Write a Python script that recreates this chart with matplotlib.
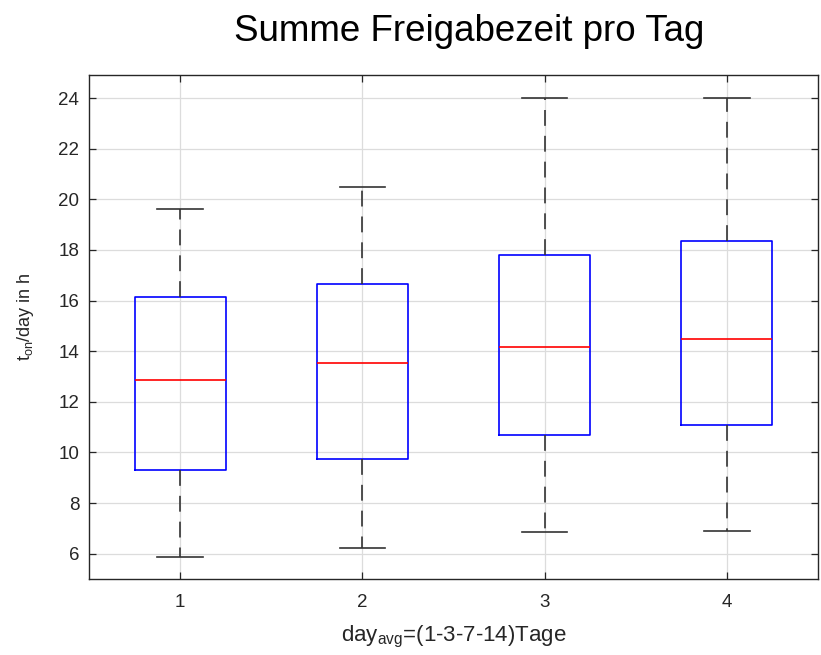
import matplotlib
matplotlib.use("Agg")
import matplotlib.pyplot as plt

# Five-number summaries per averaging window
groups = ["1", "2", "3", "4"]
whisker_low = [5.88, 6.23, 6.84, 6.88]
q1 = [9.30, 9.75, 10.68, 11.07]
median = [12.85, 13.54, 14.16, 14.50]
q3 = [16.13, 16.66, 17.79, 18.37]
whisker_high = [19.61, 20.49, 24.0, 24.0]
y_ticks = [6, 8, 10, 12, 14, 16, 18, 20, 22, 24]

plt.rcParams["font.family"] = ["Liberation Sans", "DejaVu Sans"]
plt.rcParams["mathtext.fontset"] = "custom"
plt.rcParams["mathtext.rm"] = "Liberation Sans"

fig = plt.figure(figsize=(8.21, 6.55), dpi=100)
ax = fig.add_axes([0.1084, 0.116, 0.8879, 0.769])

stats = []
for i, g in enumerate(groups):
    stats.append(dict(label=g, whislo=whisker_low[i], q1=q1[i], med=median[i],
                      q3=q3[i], whishi=whisker_high[i], fliers=[]))

positions = list(range(1, len(groups) + 1))
ax.bxp(stats, positions=positions, widths=0.5, showfliers=False,
       boxprops=dict(color="#0000ff", linewidth=1.2),
       medianprops=dict(color="#ff0000", linewidth=1.2),
       whiskerprops=dict(color="#333333", linewidth=1.2, linestyle=(0, (9.5, 6))),
       capprops=dict(color="#333333", linewidth=1.2),
       capwidths=0.25, zorder=3)

ax.set_xlim(0.5, 4.5)
ax.set_ylim(5.0, 24.9)
ax.set_yticks(y_ticks)
ax.set_xticks(positions)
ax.set_xticklabels(groups)

ax.grid(True, color="#dcdcdc", linewidth=0.9)
ax.set_axisbelow(True)
ax.tick_params(direction="in", length=5, width=0.9, colors="#262626",
               labelsize=13.5, top=True, right=True, pad=7)
ax.tick_params(axis="x", pad=11)
for sp in ax.spines.values():
    sp.set_color("#262626")
    sp.set_linewidth(1.0)

ax.set_ylabel(r"t$_{\mathrm{on}}$/day in h", fontsize=13, color="#262626")
ax.yaxis.set_label_coords(-0.073, 0.52)
ax.set_xlabel(r"day$_{\mathrm{avg}}$=(1-3-7-14)Tage", fontsize=16, color="#262626", labelpad=9)

fig.text(0.572, 0.952, "Summe Freigabezeit pro Tag", ha="center", va="center", fontsize=26.5, color="black")

fig.savefig("out.png", dpi=100)
